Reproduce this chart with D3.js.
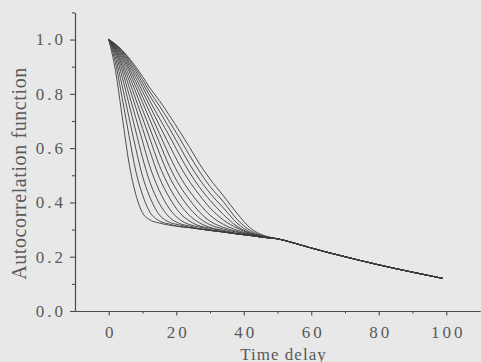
<!DOCTYPE html>
<html>
<head>
<meta charset="utf-8">
<script src="https://cdn.jsdelivr.net/npm/d3@7"></script>
<style>
  body { margin: 0; background: #e8e8e8; }
  svg { display: block; }
</style>
</head>
<body>
<svg id="chart" width="481" height="362"></svg>
<script>
// time grid shared by the head of every curve
const delays = [0, 2, 4, 6, 8, 10, 12, 15, 18, 21, 24, 27, 30, 34, 38, 42, 46];

// one array per curve, innermost (fastest decay) first
const curve1  = [1.0, 0.885, 0.715, 0.545, 0.430, 0.362, 0.337, 0.324, 0.316, 0.311, 0.307, 0.302, 0.297, 0.291, 0.284, 0.278, 0.271];
const curve2  = [1.0, 0.914, 0.783, 0.646, 0.516, 0.428, 0.368, 0.332, 0.320, 0.311, 0.307, 0.302, 0.297, 0.291, 0.284, 0.278, 0.271];
const curve3  = [1.0, 0.933, 0.828, 0.713, 0.599, 0.497, 0.425, 0.354, 0.327, 0.317, 0.308, 0.302, 0.297, 0.291, 0.284, 0.278, 0.271];
const curve4  = [1.0, 0.946, 0.861, 0.762, 0.663, 0.565, 0.482, 0.396, 0.345, 0.322, 0.313, 0.303, 0.297, 0.291, 0.284, 0.278, 0.271];
const curve5  = [1.0, 0.955, 0.884, 0.798, 0.712, 0.626, 0.539, 0.443, 0.376, 0.337, 0.318, 0.309, 0.300, 0.291, 0.284, 0.278, 0.271];
const curve6  = [1.0, 0.961, 0.901, 0.827, 0.750, 0.673, 0.596, 0.491, 0.417, 0.362, 0.331, 0.313, 0.305, 0.294, 0.285, 0.278, 0.271];
const curve7  = [1.0, 0.965, 0.913, 0.850, 0.780, 0.711, 0.641, 0.536, 0.455, 0.394, 0.351, 0.324, 0.308, 0.297, 0.286, 0.279, 0.271];
const curve8  = [1.0, 0.968, 0.924, 0.868, 0.806, 0.742, 0.678, 0.582, 0.494, 0.429, 0.378, 0.341, 0.318, 0.302, 0.290, 0.280, 0.272];
const curve9  = [1.0, 0.972, 0.933, 0.884, 0.826, 0.769, 0.710, 0.621, 0.532, 0.462, 0.409, 0.363, 0.331, 0.308, 0.293, 0.281, 0.272];
const curve10 = [1.0, 0.975, 0.939, 0.895, 0.844, 0.790, 0.736, 0.654, 0.571, 0.498, 0.440, 0.393, 0.353, 0.319, 0.298, 0.283, 0.272];
const curve11 = [1.0, 0.977, 0.946, 0.905, 0.859, 0.809, 0.759, 0.684, 0.610, 0.537, 0.476, 0.425, 0.380, 0.335, 0.306, 0.285, 0.273];
const curve12 = [1.0, 0.979, 0.950, 0.913, 0.872, 0.826, 0.778, 0.710, 0.644, 0.574, 0.509, 0.454, 0.408, 0.355, 0.312, 0.287, 0.274];
const curve13 = [1.0, 0.980, 0.955, 0.920, 0.883, 0.840, 0.796, 0.736, 0.672, 0.606, 0.540, 0.483, 0.434, 0.379, 0.324, 0.290, 0.275];
const curve14 = [1.0, 0.982, 0.958, 0.927, 0.892, 0.853, 0.811, 0.756, 0.697, 0.636, 0.572, 0.512, 0.459, 0.402, 0.338, 0.296, 0.276];
const curve15 = [1.0, 0.983, 0.960, 0.932, 0.900, 0.864, 0.825, 0.775, 0.720, 0.662, 0.602, 0.540, 0.486, 0.424, 0.360, 0.305, 0.278];

// after ~t=46 all curves run together
const tailDelays = [50, 55, 60, 70, 80, 90, 99];
const tailValues = [0.266, 0.250, 0.232, 0.200, 0.170, 0.143, 0.120];

const xTicks = [0, 20, 40, 60, 80, 100];
const xMinorTicks = [10, 30, 50, 70, 90];
const yTicks = [0.0, 0.2, 0.4, 0.6, 0.8, 1.0];
const yMinorTicks = [0.1, 0.3, 0.5, 0.7, 0.9, 1.1];

const curves = [curve1, curve2, curve3, curve4, curve5, curve6, curve7, curve8,
  curve9, curve10, curve11, curve12, curve13, curve14, curve15];

const series = curves.map(vals =>
  delays.map((t, i) => ({t: t, v: vals[i]}))
    .concat(tailDelays.map((t, i) => ({t: t, v: tailValues[i]}))));

const svg = d3.select("#chart");
const fontFamily = "'Liberation Serif', 'Times New Roman', serif";
const ink = "#4a4a4a";
const textInk = "#595959";

const x = d3.scaleLinear().domain([-10, 110]).range([75, 480]);
const y = d3.scaleLinear().domain([0, 1.1]).range([311, 12.4]);

// x axis: minor ticks first, then major ticks with labels
svg.append("g")
  .attr("transform", `translate(0,${y(0)})`)
  .call(d3.axisBottom(x).tickValues(xMinorTicks).tickSize(2.5).tickSizeOuter(0).tickFormat(""));

const xAxis = svg.append("g")
  .attr("transform", `translate(0,${y(0)})`)
  .call(d3.axisBottom(x).tickValues(xTicks).tickSize(4.5).tickSizeOuter(0).tickPadding(10).tickFormat(d3.format("d")));

svg.append("g")
  .attr("transform", `translate(${x(-10)},0)`)
  .call(d3.axisLeft(y).tickValues(yMinorTicks).tickSize(3).tickSizeOuter(0).tickFormat(""));

const yAxis = svg.append("g")
  .attr("transform", `translate(${x(-10)},0)`)
  .call(d3.axisLeft(y).tickValues(yTicks).tickSize(5).tickSizeOuter(0).tickPadding(4).tickFormat(d3.format(".1f")));

svg.selectAll(".domain, .tick line")
  .attr("stroke", ink)
  .attr("stroke-width", 1.1);

svg.selectAll(".tick text")
  .attr("font-family", fontFamily)
  .attr("font-size", 17)
  .attr("letter-spacing", "3px")
  .attr("fill", textInk);

xAxis.selectAll(".tick text").attr("dx", "1.5");

const line = d3.line()
  .x(d => x(d.t))
  .y(d => y(d.v))
  .curve(d3.curveMonotoneX);

svg.append("g")
  .selectAll("path")
  .data(series)
  .enter()
  .append("path")
    .attr("fill", "none")
    .attr("stroke", "#3c3c3c")
    .attr("stroke-width", 0.9)
    .attr("stroke-linejoin", "round")
    .attr("d", line);

svg.append("text")
  .attr("x", 283.5)
  .attr("y", 359.5)
  .attr("text-anchor", "middle")
  .attr("font-family", fontFamily)
  .attr("font-size", 17)
  .attr("letter-spacing", "1px")
  .attr("fill", textInk)
  .text("Time delay");

svg.append("text")
  .attr("transform", "translate(25.5,173.5) rotate(-90)")
  .attr("text-anchor", "middle")
  .attr("font-family", fontFamily)
  .attr("font-size", 20)
  .attr("letter-spacing", "0.6px")
  .attr("fill", textInk)
  .text("Autocorrelation function");
</script>
</body>
</html>
